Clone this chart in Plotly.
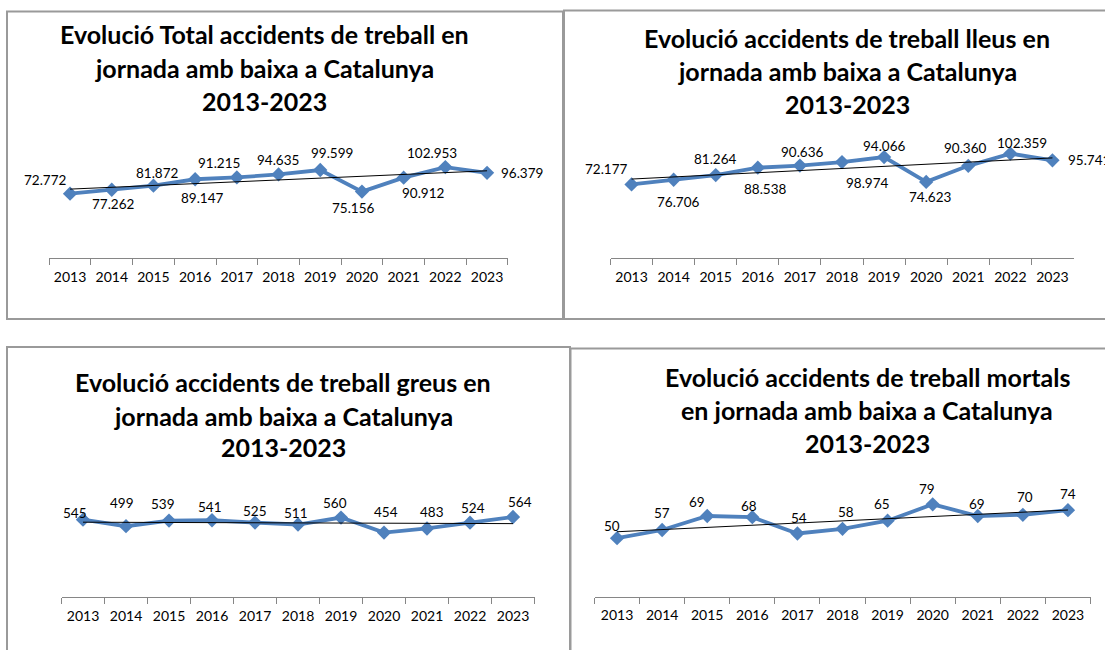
import numpy as np
import plotly.graph_objects as go

W, H = 1105, 650

years = [str(y) for y in range(2013, 2024)]

total = [72772, 77262, 81872, 89147, 91215, 94635, 99599, 75156, 90912, 102953, 96379]
lleus = [72177, 76706, 81264, 88538, 90636, 94066, 98974, 74623, 90360, 102359, 95741]
greus = [545, 499, 539, 541, 525, 511, 560, 454, 483, 524, 564]
mortals = [50, 57, 69, 68, 54, 58, 65, 79, 69, 70, 74]

titles = [
    ["Evolució Total accidents de treball en", "jornada amb baixa a Catalunya", "2013-2023"],
    ["Evolució accidents de treball lleus en", "jornada amb baixa a Catalunya", "2013-2023"],
    ["Evolució accidents de treball greus en", "jornada amb baixa a Catalunya", "2013-2023"],
    ["Evolució accidents de treball mortals", "en jornada amb baixa a Catalunya", "2013-2023"],
]


def px_x(v):
    return v / W


def px_y(v):
    return 1 - v / H


def fmt(v):
    return f"{v:,}".replace(",", ".")


# panel layout in pixels: x-domain, y-domain (bottom, top), y range, title centre x and line y's,
# label offsets (dx, dy) in px from each point
panels = [
    dict(series=total, xd=(49.2, 507.9), yd=(258, 152), yr=120000,
         tx=264, ty=(34, 68, 101),
         off=[(-25, -14), (2, 14), (4, -13), (7, 19), (-18, -14), (-1, -14), (12, -17),
              (-8, 16), (20, 15), (-13, -14), (35, 0)]),
    # in the original the 2018 / 2019 labels of this panel sit swapped over
    dict(series=lleus, xd=(610.5, 1073.5), yd=(258, 135.6), yr=120000,
         tx=847, ty=(38, 71, 104),
         off=[(-25, -15), (5, 22), (0, -16), (8, 21), (3, -14), (42, -16), (-17, 26),
              (4, 15), (-3, -18), (12, -11), (37, 0)]),
    dict(series=greus, xd=(61.5, 534.5), yd=(597, 497.7), yr=700,
         tx=283, ty=(382, 416, 447),
         off=[(-8, -7), (-4, -23), (-6, -17), (-2, -13), (0, -12), (-2, -12), (-6, -15),
              (2, -21), (5, -16), (3, -15), (7, -15)]),
    dict(series=mortals, xd=(594.5, 1090.5), yd=(596.5, 491.5), yr=90,
         tx=867, ty=(377, 410, 443),
         off=[(-5, -12), (0, -17), (-10, -14), (-3, -11), (2, -16), (3, -17), (-6, -17),
              (-6, -15), (-1, -12), (2, -18), (0, -16)]),
]

blue = "#4F81BD"
font = "Lato, Carlito, Calibri, sans-serif"

fig = go.Figure()
annotations = []
layout_axes = {}

for i, p in enumerate(panels, start=1):
    sfx = "" if i == 1 else str(i)
    xa, ya = "x" + sfx, "y" + sfx
    vals = p["series"]

    # linear trend line (Excel style)
    idx = np.arange(len(vals))
    k, b = np.polyfit(idx, vals, 1)
    trend = k * idx + b

    fig.add_trace(go.Scatter(
        x=years, y=vals, mode="lines+markers", xaxis=xa, yaxis=ya,
        line=dict(color=blue, width=3.8),
        marker=dict(symbol="diamond", size=11, color=blue),
        showlegend=False, cliponaxis=False,
    ))
    fig.add_trace(go.Scatter(
        x=[years[0], years[-1]], y=[trend[0], trend[-1]], mode="lines",
        xaxis=xa, yaxis=ya, line=dict(color="black", width=1),
        showlegend=False, cliponaxis=False,
    ))

    layout_axes["xaxis" + sfx] = dict(
        domain=[px_x(p["xd"][0]), px_x(p["xd"][1])], anchor=ya, type="category",
        range=[-0.5, len(years) - 0.5], showline=True, linecolor="#868686", linewidth=1,
        ticks="outside", tickson="boundaries", ticklen=6, tickcolor="#868686",
        ticklabelstandoff=6,
        showgrid=False, zeroline=False, fixedrange=True,
        tickfont=dict(family=font, size=14, color="black"),
    )
    layout_axes["yaxis" + sfx] = dict(
        domain=[px_y(p["yd"][0]), px_y(p["yd"][1])], anchor=xa, range=[0, p["yr"]],
        visible=False, fixedrange=True,
    )

    for j, v in enumerate(vals):
        dx, dy = p["off"][j]
        annotations.append(dict(
            x=j, y=v, xref=xa, yref=ya, text=fmt(v), showarrow=False,
            xshift=dx, yshift=-dy, font=dict(family=font, size=13.5, color="black"),
        ))

    for line, ty in zip(titles[i - 1], p["ty"]):
        annotations.append(dict(
            x=px_x(p["tx"]), y=px_y(ty), xref="paper", yref="paper", text=f"<b>{line}</b>",
            showarrow=False, xanchor="center", yanchor="middle",
            font=dict(family=font, size=25, color="black"),
        ))

# panel frames
frames = [(7, 11.5, 563, 319), (564, 10.5, 1115, 319), (7, 347, 570, 665), (570.5, 348.5, 1115, 665)]
shapes = [
    dict(type="rect", xref="paper", yref="paper", x0=px_x(a), x1=px_x(c), y0=px_y(d), y1=px_y(b),
         line=dict(color="#9a9a9a", width=2), fillcolor="rgba(0,0,0,0)", layer="below")
    for a, b, c, d in frames
]

fig.update_layout(
    width=W, height=H, margin=dict(l=0, r=0, t=0, b=0),
    paper_bgcolor="white", plot_bgcolor="white",
    annotations=annotations, shapes=shapes, **layout_axes,
)

fig.write_html("out.html", config={"displayModeBar": False},
               post_script="document.body.style.margin='0';")
